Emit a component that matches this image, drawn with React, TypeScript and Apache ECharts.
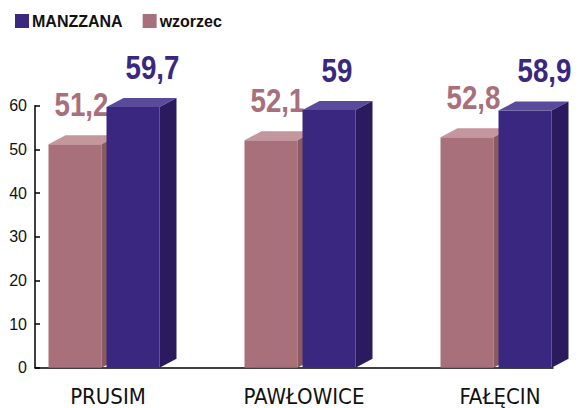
import React, { useEffect, useRef } from "react";
import * as echarts from "echarts";

const categories = ["PRUSIM", "PAWŁOWICE", "FAŁĘCIN"];
const manzzana = [59.7, 59, 58.9];
const wzorzec = [51.2, 52.1, 52.8];
const yTicks = { min: 0, max: 60, interval: 10 };

const SANS = "'Liberation Sans', Arial, sans-serif";
const COND = "'DejaVu Sans Condensed', 'Liberation Sans', Arial, sans-serif";

type Palette = { front: string; top: string; side: string; label: string };
const wzPal: Palette = { front: "#A8707A", top: "#C4979E", side: "#8A5A63", label: "#A8707A" };
const mzPal: Palette = { front: "#3A2880", top: "#5A4A9B", side: "#2B1A5D", label: "#3A2880" };

function makeRender(offsetLeft: number, width: number, labelDx: number, pal: Palette) {
  const dx = 17;
  const dy = 9;
  return (params: any, api: any) => {
    const idx = api.value(0);
    const val = api.value(1);
    const top = api.coord([idx, val]);
    const base = api.coord([idx, 0]);
    const x0 = top[0] + offsetLeft;
    const x1 = x0 + width;
    const yt = top[1];
    const yb = base[1];
    const txt = String(val).replace(".", ",");
    return {
      type: "group",
      children: [
        { type: "rect", shape: { x: x0, y: yt, width: width, height: yb - yt }, style: { fill: pal.front } },
        {
          type: "polygon",
          shape: { points: [[x0, yt], [x1, yt], [x1 + dx, yt - dy], [x0 + dx, yt - dy]] },
          style: { fill: pal.top },
        },
        {
          type: "polygon",
          shape: { points: [[x1, yt], [x1 + dx, yt - dy], [x1 + dx, yb - dy], [x1, yb]] },
          style: { fill: pal.side },
        },
        {
          type: "text",
          x: x0 + labelDx,
          y: yt - 40,
          scaleX: 0.84,
          style: {
            text: txt,
            fill: pal.label,
            font: "bold 33px " + SANS,
            textAlign: "left",
            textVerticalAlign: "middle",
          },
        },
      ],
    };
  };
}

export default function App() {
  const ref = useRef<HTMLDivElement>(null);
  useEffect(() => {
    if (!ref.current) return;
    const chart = echarts.init(ref.current, null, { renderer: "svg" });
    const gridTop = 105.7;
    const gridBottom = 40.3;
    chart.setOption({
      animation: false,
      backgroundColor: "#ffffff",
      legend: {
        left: 10,
        top: 8,
        itemWidth: 14,
        itemHeight: 14,
        itemGap: 20,
        icon: "rect",
        data: ["MANZZANA", "wzorzec"],
        textStyle: { fontFamily: SANS, fontWeight: "bold", fontSize: 16, color: "#111", padding: [0, 0, 0, -2] },
      },
      grid: [
        { left: 35, right: 26, top: gridTop, bottom: gridBottom },
        { left: 104, right: 83, top: gridTop, bottom: gridBottom },
      ],
      xAxis: [
        {
          type: "category",
          gridIndex: 0,
          data: categories,
          axisLine: { lineStyle: { color: "#000", width: 1.5 } },
          axisTick: { show: false },
          axisLabel: { show: false },
        },
        {
          type: "category",
          gridIndex: 1,
          data: categories,
          boundaryGap: false,
          axisLine: { show: false },
          axisTick: { show: false },
          axisLabel: {
            fontFamily: COND,
            fontSize: 22,
            color: "#111",
            margin: 18,
            padding: [0, 0, 0, 8],
          },
        },
      ],
      yAxis: [
        {
          type: "value",
          gridIndex: 0,
          min: yTicks.min,
          max: yTicks.max,
          interval: yTicks.interval,
          splitLine: { show: false },
          axisLine: { show: true, lineStyle: { color: "#000", width: 1.5 } },
          axisTick: { show: true, inside: true, length: 5, lineStyle: { color: "#000", width: 1.5 } },
          axisLabel: { fontFamily: SANS, fontSize: 16, color: "#111", margin: 8 },
        },
        {
          type: "value",
          gridIndex: 1,
          min: yTicks.min,
          max: yTicks.max,
          interval: yTicks.interval,
          show: false,
        },
      ],
      series: [
        {
          name: "wzorzec",
          type: "custom",
          xAxisIndex: 1,
          yAxisIndex: 1,
          itemStyle: { color: wzPal.front },
          data: wzorzec.map((v, i) => [i, v]),
          encode: { x: 0, y: 1 },
          renderItem: makeRender(-55.5, 53, 6, wzPal),
        },
        {
          name: "MANZZANA",
          type: "custom",
          xAxisIndex: 1,
          yAxisIndex: 1,
          itemStyle: { color: mzPal.front },
          data: manzzana.map((v, i) => [i, v]),
          encode: { x: 0, y: 1 },
          renderItem: makeRender(2.5, 53, 19, mzPal),
        },
      ],
    });
    return () => chart.dispose();
  }, []);
  return (
    <div
      ref={ref}
      style={{ position: "absolute", left: 0, top: 0, width: 579, height: 408 }}
    />
  );
}
